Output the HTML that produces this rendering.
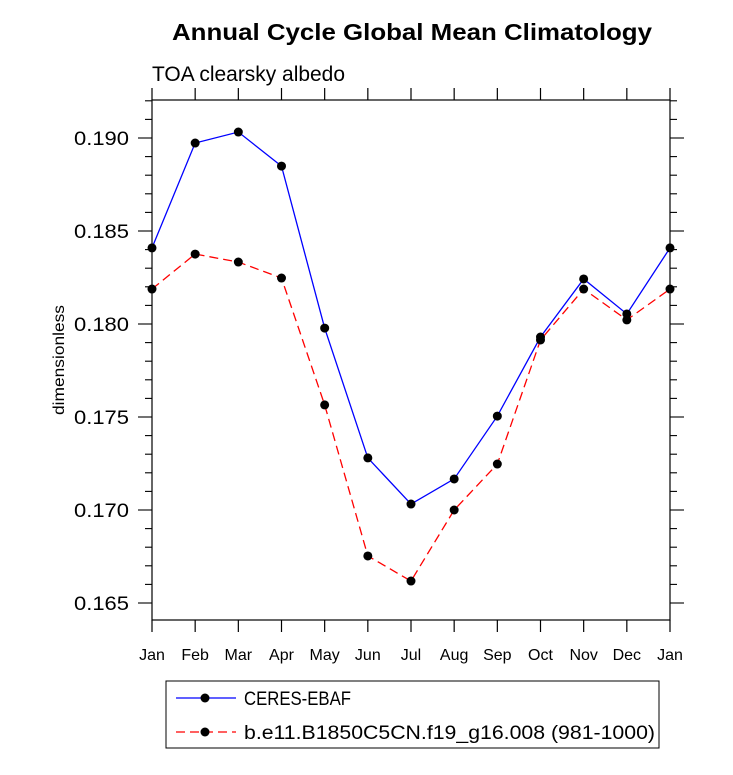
<!DOCTYPE html>
<html><head><meta charset="utf-8"><style>
body{margin:0;background:#fff;}
svg text{font-family:"Liberation Sans",Arial,sans-serif;}
</style></head><body>
<svg id="chart" width="733" height="770" viewBox="0 0 733 770" xmlns="http://www.w3.org/2000/svg">
<text x="412" y="40" text-anchor="middle" font-size="23" font-weight="bold" textLength="480" lengthAdjust="spacingAndGlyphs">Annual Cycle Global Mean Climatology</text>
<text x="152" y="81" font-size="21" textLength="193" lengthAdjust="spacingAndGlyphs">TOA clearsky albedo</text>
<text transform="translate(64,360) rotate(-90)" text-anchor="middle" font-size="16" textLength="110" lengthAdjust="spacingAndGlyphs">dimensionless</text>
<rect x="152" y="100" width="518" height="520" fill="none" stroke="#000" stroke-width="1.2"/>
<g id="axes"></g>
<g id="series"></g>
<g>
<rect x="166" y="681" width="493" height="67" fill="none" stroke="#000" stroke-width="1"/>
<line x1="176" y1="698" x2="236" y2="698" stroke="#0000ff" stroke-width="1.3"/>
<circle cx="205" cy="698" r="4.5" fill="#000"/>
<text x="244" y="705" font-size="19" textLength="107" lengthAdjust="spacingAndGlyphs">CERES-EBAF</text>
<line x1="176" y1="732" x2="236" y2="732" stroke="#ff0000" stroke-width="1.3" stroke-dasharray="9,5"/>
<circle cx="205" cy="732" r="4.5" fill="#000"/>
<text x="244" y="739" font-size="19" textLength="411" lengthAdjust="spacingAndGlyphs">b.e11.B1850C5CN.f19_g16.008 (981-1000)</text>
</g>
</svg>
<script>
const months = ["Jan","Feb","Mar","Apr","May","Jun","Jul","Aug","Sep","Oct","Nov","Dec","Jan"];
const ceres = [0.18409,0.18973,0.19032,0.18849,0.17978,0.17280,0.17032,0.17167,0.17505,0.17930,0.18242,0.18054,0.18409];
const model = [0.18188,0.18376,0.18333,0.18247,0.17565,0.16753,0.16618,0.17000,0.17247,0.17914,0.18188,0.18022,0.18188];
const yTicks = [0.165,0.170,0.175,0.180,0.185,0.190];
const yTickLabels = ["0.165","0.170","0.175","0.180","0.185","0.190"];
const NS="http://www.w3.org/2000/svg";
const X0=152,X1=670;
function xs(i){return X0+(X1-X0)*i/(months.length-1);}
function ys(v){return 138+(0.190-v)*18600;}
const axes=document.getElementById('axes');
function mk(tag,attrs,parent){const e=document.createElementNS(NS,tag);for(const k in attrs)e.setAttribute(k,attrs[k]);parent.appendChild(e);return e;}
months.forEach((m,i)=>{
  const x=xs(i);
  const t1=mk('line',{x1:x,y1:620,x2:x,y2:632,stroke:'#000','stroke-width':1.2},axes);
  
  
  mk('line',{x1:x,y1:100,x2:x,y2:88,stroke:'#000','stroke-width':1.2},axes);
  const t=mk('text',{x:x,y:660,'text-anchor':'middle','font-size':16},axes);
  t.textContent=m;
  
  
});
for(let k=164;k<=192;k++){
  const v=k/1000,y=ys(v);
  if(y<100||y>620)continue;
  const major=(k%5===0),len=major?14:7;
  mk('line',{x1:X0,y1:y,x2:X0-len,y2:y,stroke:'#000','stroke-width':1.1},axes);
  mk('line',{x1:X1,y1:y,x2:X1+len,y2:y,stroke:'#000','stroke-width':1.1},axes);
}
yTicks.forEach((v,i)=>{
  const t=mk('text',{x:129,y:ys(v)+7,'text-anchor':'end','font-size':19,textLength:55,lengthAdjust:'spacingAndGlyphs'},axes);
  t.textContent=yTickLabels[i];
  
  
});
const ser=document.getElementById('series');
function draw(vals,color,dash,name){
  const pts=vals.map((v,i)=>xs(i)+','+ys(v)).join(' ');
  const pl=mk('polyline',{points:pts,fill:'none',stroke:color,'stroke-width':1.3},ser);
  if(dash)pl.setAttribute('stroke-dasharray',dash);
  
  
  vals.forEach((v,i)=>{
    const c=mk('circle',{cx:xs(i),cy:ys(v),r:4.5,fill:'#000'},ser);
    
    
  });
}
draw(ceres,'#0000ff',null,'ceres');
draw(model,'#ff0000','9,5','model');
</script>
</body></html>
